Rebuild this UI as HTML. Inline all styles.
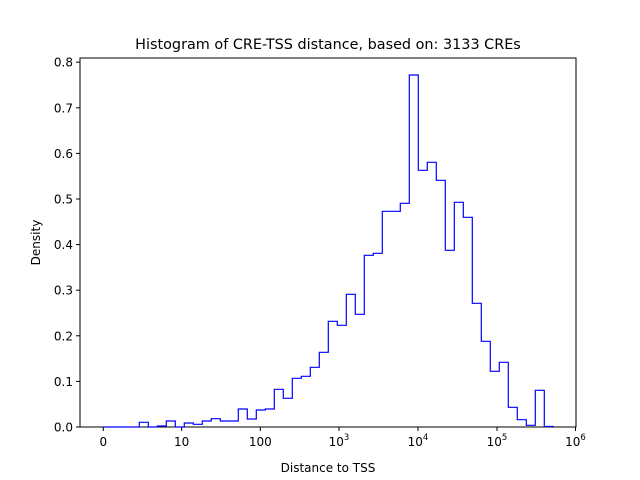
<!DOCTYPE html>
<html><head><meta charset="utf-8"><style>body{margin:0;background:#fff}svg{display:block}text{font-family:"DejaVu Sans","Liberation Sans",sans-serif;fill:#000}</style></head><body>
<svg width="640" height="480" viewBox="0 0 640 480">
<rect width="640" height="480" fill="#fff"/>
<text x="328" y="49" font-size="14.4" text-anchor="middle">Histogram of CRE-TSS distance, based on: 3133 CREs</text>
<g id="h"></g>
<rect x="80" y="58" width="496" height="369" fill="none" stroke="#000" stroke-width="1"/>
<g stroke="#000" stroke-width="1">
<line x1="103.3" y1="427" x2="103.3" y2="431"/><line x1="181.7" y1="427" x2="181.7" y2="431"/><line x1="260.3" y1="427" x2="260.3" y2="431"/><line x1="339" y1="427" x2="339" y2="431"/><line x1="418" y1="427" x2="418" y2="431"/><line x1="497" y1="427" x2="497" y2="431"/><line x1="575.5" y1="427" x2="575.5" y2="431"/>
<line x1="76" y1="427" x2="80" y2="427"/><line x1="76" y1="381.4" x2="80" y2="381.4"/><line x1="76" y1="335.8" x2="80" y2="335.8"/><line x1="76" y1="290.2" x2="80" y2="290.2"/><line x1="76" y1="244.6" x2="80" y2="244.6"/><line x1="76" y1="199" x2="80" y2="199"/><line x1="76" y1="153.4" x2="80" y2="153.4"/><line x1="76" y1="107.8" x2="80" y2="107.8"/><line x1="76" y1="62.2" x2="80" y2="62.2"/>
</g>
<g font-size="12" text-anchor="middle">
<text x="103.3" y="446">0</text><text x="181.7" y="446">10</text><text x="260.3" y="446">100</text>
<text x="339" y="446">10<tspan font-size="8.5" dy="-6">3</tspan></text>
<text x="418" y="446">10<tspan font-size="8.5" dy="-6">4</tspan></text>
<text x="497" y="446">10<tspan font-size="8.5" dy="-6">5</tspan></text>
<text x="575.5" y="446">10<tspan font-size="8.5" dy="-6">6</tspan></text>
</g>
<g font-size="12" text-anchor="end">
<text x="73" y="431.5">0.0</text><text x="73" y="385.9">0.1</text><text x="73" y="340.3">0.2</text><text x="73" y="294.7">0.3</text><text x="73" y="249.1">0.4</text><text x="73" y="203.5">0.5</text><text x="73" y="157.9">0.6</text><text x="73" y="112.3">0.7</text><text x="73" y="66.7">0.8</text>
</g>
<text x="328" y="472" font-size="12" text-anchor="middle">Distance to TSS</text>
<text transform="translate(40,242.5) rotate(-90)" font-size="12" text-anchor="middle">Density</text>
<path id="p" fill="none" stroke="#0000ff" stroke-width="1.2" d=""/>
</svg>
<script>
var ys=[427,427,427,427,422.3,427,426,421,427,423,424.3,421,418.7,421,421,409,419,410,409,389.3,398.3,378.3,376.3,367.3,352.3,321.3,325.3,294.3,314.3,255.3,253.3,211.3,211.3,203.3,75,170.3,162.3,180.3,250.3,202.3,217.3,303.3,341.3,371.3,362.3,407.3,419.7,425.3,390.3,426.5];
var d="M103.3 427";for(var i=0;i<ys.length;i++){var x=103.3+9*i;d+=" L"+x+" "+ys[i]+" L"+(x+9)+" "+ys[i];}d+=" L553.3 427";
document.getElementById("p").setAttribute("d",d);
</script>
</body></html>
